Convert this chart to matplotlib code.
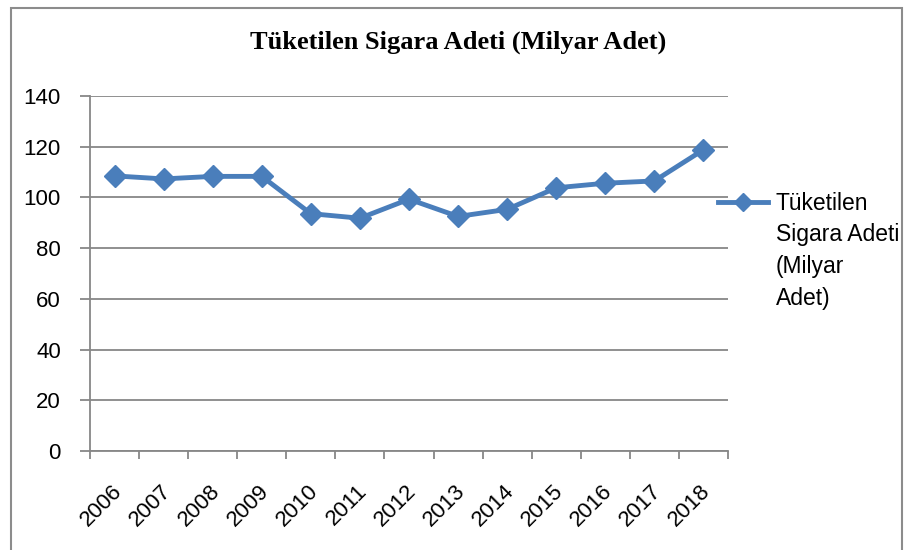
import matplotlib
matplotlib.use("Agg")
import matplotlib.pyplot as plt
import matplotlib.transforms as mtransforms
from matplotlib.patches import Rectangle
from matplotlib.lines import Line2D

years = ["2006", "2007", "2008", "2009", "2010", "2011", "2012",
         "2013", "2014", "2015", "2016", "2017", "2018"]
values = [108.5, 107.3, 108.3, 108.3, 93.6, 91.8, 99.3,
          92.5, 95.3, 103.8, 105.6, 106.5, 118.8]
yticks = [0, 20, 40, 60, 80, 100, 120, 140]
title = "Tüketilen Sigara Adeti (Milyar Adet)"
legend_lines = ["Tüketilen", "Sigara Adeti", "(Milyar", "Adet)"]

W, H = 907, 550
fig = plt.figure(figsize=(W / 100, H / 100), dpi=100)
fig.patch.set_facecolor("white")

# outer chart border
fig.add_artist(Rectangle((11 / W, -0.01), (902 - 11) / W, (550 - 8) / H + 0.01,
                         transform=fig.transFigure, fill=False,
                         edgecolor="#8c8c8c", linewidth=1.5))

ax = fig.add_axes([90 / W, 1 - 451 / H, (728 - 90) / W, (451 - 96) / H])
color = "#4A7EBB"
x = list(range(len(years)))
ax.plot(x, values, color=color, linewidth=3.5, marker="D", markersize=11,
        markerfacecolor=color, markeredgecolor=color, solid_joinstyle="round")

ax.set_xlim(-0.5, len(years) - 0.5)
ax.set_ylim(0, 140)
ax.set_yticks(yticks)
ax.set_yticklabels([str(v) for v in yticks], fontsize=16, family="Liberation Sans")
ax.yaxis.grid(True, color="#878787", linewidth=1.3)
ax.set_axisbelow(True)

ax.set_xticks(x)
ax.set_xticklabels(years, rotation=45, ha="right", va="center",
                   rotation_mode="anchor", fontsize=16, family="Liberation Sans")
ax.tick_params(axis="x", length=0, pad=27)
offset = mtransforms.ScaledTranslation(4 / 100, 0, fig.dpi_scale_trans)
for lbl in ax.get_xticklabels():
    lbl.set_transform(lbl.get_transform() + offset)
ax.set_xticks([i - 0.5 for i in range(len(years) + 1)], minor=True)
ax.tick_params(axis="x", which="minor", length=6, color="#878787", width=1.3)
ax.tick_params(axis="y", length=7, color="#878787", width=1.3, pad=14)

for s in ["top", "right"]:
    ax.spines[s].set_visible(False)
for s in ["left", "bottom"]:
    ax.spines[s].set_color("#878787")
    ax.spines[s].set_linewidth(1.3)

fig.text(458 / W, 1 - 42 / H, title, ha="center", va="center",
         fontsize=19, fontweight="bold", family="Liberation Serif")

# legend
fig.add_artist(Line2D([718 / W, 768 / W], [1 - 202 / H, 1 - 202 / H],
                      transform=fig.transFigure, color=color, linewidth=3.5))
fig.add_artist(Line2D([743 / W], [1 - 202 / H], transform=fig.transFigure,
                      marker="D", markersize=9, color=color, linestyle="none"))
for i, t in enumerate(legend_lines):
    fig.text(776 / W, 1 - (203 + 32 * i) / H, t, ha="left", va="center",
             fontsize=16.5, family="Liberation Sans")

fig.savefig("out.png", dpi=100)
